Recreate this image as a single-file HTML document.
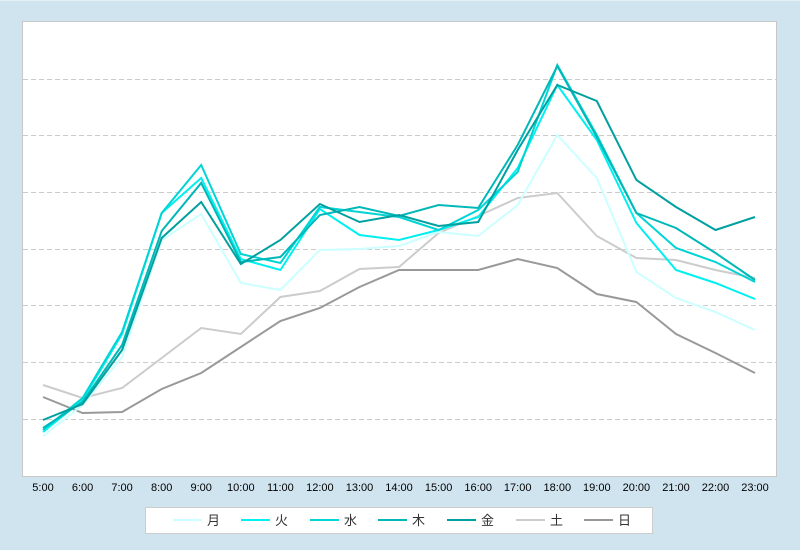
<!DOCTYPE html>
<html><head><meta charset="utf-8"><style>
body{margin:0;background:#d0e4ef;width:800px;height:550px;overflow:hidden;font-family:"Liberation Sans","Noto Sans CJK JP",sans-serif}
</style></head><body>
<svg width="800" height="550" xmlns="http://www.w3.org/2000/svg" style="position:absolute;left:0;top:0">
<rect x="0" y="0" width="800" height="550" fill="#d0e4ef"/>
<rect x="0" y="0" width="800" height="1" fill="#e6eef4"/>
<rect x="22.5" y="21.5" width="754" height="455" fill="#fff" stroke="#c8c8c8" stroke-width="1"/>
<g stroke="#cccccc" stroke-dasharray="5,3" stroke-width="1">
<line x1="23" x2="776" y1="79.5" y2="79.5"/><line x1="23" x2="776" y1="135.5" y2="135.5"/>
<line x1="23" x2="776" y1="192.5" y2="192.5"/><line x1="23" x2="776" y1="249.5" y2="249.5"/>
<line x1="23" x2="776" y1="305.5" y2="305.5"/><line x1="23" x2="776" y1="362.5" y2="362.5"/>
<line x1="23" x2="776" y1="419.5" y2="419.5"/>
</g>
<g fill="none" stroke-width="2" stroke-linejoin="miter">
<polyline stroke="#cccccc" points="43,385 82.6,398 122.1,388 161.7,358 201.2,328 240.8,334 280.4,297 319.9,291 359.5,269 399,267 438.6,233 478.2,216 517.7,198 557.3,193 596.8,236 636.4,258 676,260 715.5,270 755,278"/>
<polyline stroke="#999999" points="43,397 82.6,413 122.1,412 161.7,389 201.2,373 240.8,347 280.4,321 319.9,308 359.5,287 399,270 438.6,270 478.2,270 517.7,259 557.3,268 596.8,294 636.4,302 676,334 715.5,353 755,373"/>
<polyline stroke="#ccffff" points="43,436 82.6,405 122.1,357 161.7,240 201.2,214 240.8,283 280.4,290 319.9,250 359.5,249 399,246 438.6,232 478.2,236 517.7,205 557.3,135 596.8,178 636.4,272 676,298 715.5,312 755,330"/>
<polyline stroke="#00f0f0" points="43,432 82.6,400 122.1,334 161.7,213 201.2,178 240.8,259 280.4,270 319.9,209 359.5,235 399,240 438.6,230 478.2,217 517.7,168 557.3,85 596.8,140 636.4,223 676,270 715.5,283 755,299"/>
<polyline stroke="#00d4d4" points="43,430 82.6,398 122.1,332 161.7,213 201.2,165 240.8,254 280.4,263 319.9,207 359.5,212 399,217 438.6,230 478.2,210 517.7,172 557.3,65 596.8,135 636.4,213 676,248 715.5,262 755,282"/>
<polyline stroke="#00b8b8" points="43,428 82.6,402 122.1,345 161.7,231 201.2,183 240.8,262 280.4,257 319.9,215 359.5,207 399,216 438.6,205 478.2,208 517.7,145 557.3,66 596.8,137 636.4,213 676,228 715.5,253 755,280"/>
<polyline stroke="#00a0a0" points="43,420 82.6,404 122.1,350 161.7,238 201.2,202 240.8,264 280.4,240 319.9,204 359.5,222 399,215 438.6,226 478.2,222 517.7,150 557.3,85 596.8,101 636.4,180 676,207 715.5,230 755,217"/>
</g>
<g font-size="11" fill="#000" text-anchor="middle">
<text x="43" y="491">5:00</text><text x="82.6" y="491">6:00</text><text x="122.1" y="491">7:00</text><text x="161.7" y="491">8:00</text><text x="201.2" y="491">9:00</text><text x="240.8" y="491">10:00</text><text x="280.4" y="491">11:00</text><text x="319.9" y="491">12:00</text><text x="359.5" y="491">13:00</text><text x="399" y="491">14:00</text><text x="438.6" y="491">15:00</text><text x="478.2" y="491">16:00</text><text x="517.7" y="491">17:00</text><text x="557.3" y="491">18:00</text><text x="596.8" y="491">19:00</text><text x="636.4" y="491">20:00</text><text x="676" y="491">21:00</text><text x="715.5" y="491">22:00</text><text x="755" y="491">23:00</text>
</g>
<rect x="145.5" y="507.5" width="507" height="26" fill="#fff" stroke="#cccccc"/>
<g stroke-width="2">
<line x1="173" x2="202" y1="520" y2="520" stroke="#ccffff"/>
<line x1="241" x2="270" y1="520" y2="520" stroke="#00f0f0"/>
<line x1="310" x2="339" y1="520" y2="520" stroke="#00d4d4"/>
<line x1="378" x2="407" y1="520" y2="520" stroke="#00b8b8"/>
<line x1="447" x2="476" y1="520" y2="520" stroke="#00a0a0"/>
<line x1="516" x2="545" y1="520" y2="520" stroke="#cccccc"/>
<line x1="584" x2="613" y1="520" y2="520" stroke="#999999"/>
</g>
<g font-size="13" fill="#333">
<text x="207" y="525">月</text><text x="275" y="525">火</text><text x="344" y="525">水</text><text x="412" y="525">木</text><text x="481" y="525">金</text><text x="550" y="525">土</text><text x="618" y="525">日</text>
</g>
</svg>
</body></html>
